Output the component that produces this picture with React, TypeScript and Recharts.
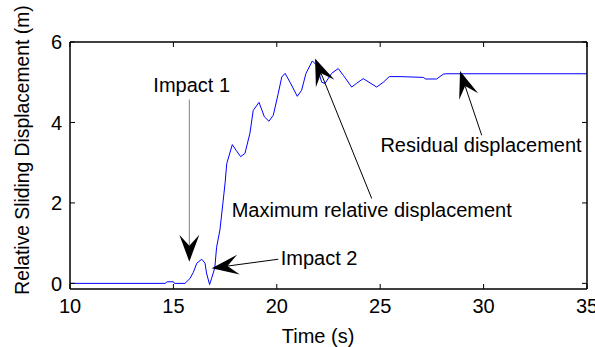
import { LineChart, Line, XAxis, YAxis, ReferenceLine, ReferenceDot } from "recharts";

// time (s) and relative sliding displacement (m)
const timeS = [
  10, 14.6, 14.7, 15.0, 15.05, 15.56, 15.8, 15.96, 16.13, 16.37, 16.53, 16.6, 16.75, 16.85,
  17.0, 17.09, 17.25, 17.41, 17.5, 17.58, 17.85, 18.03, 18.25, 18.46, 18.7, 18.86, 19.14,
  19.4, 19.62, 19.83, 20.07, 20.24, 20.4, 20.64, 20.99, 21.2, 21.41, 21.72, 21.93, 22.17,
  22.33, 22.65, 22.97, 23.22, 23.62, 23.85, 24.18, 24.83, 25.15, 25.44, 25.96, 27.08, 27.2,
  27.73, 28.05, 28.17, 35,
];
const displacement = [
  0, 0, 0.04, 0.04, 0, 0, 0.12, 0.27, 0.5, 0.6, 0.5, 0.26, -0.03, 0.13,
  0.38, 0.9, 1.33, 2.07, 2.5, 2.98, 3.45, 3.31, 3.15, 3.23, 3.73, 4.3, 4.5,
  4.14, 4.03, 4.18, 4.72, 5.13, 5.22, 5.0, 4.65, 4.8, 5.22, 5.53, 5.42, 5.0,
  4.97, 5.22, 5.34, 5.17, 4.88, 4.97, 5.09, 4.88, 5.0, 5.14, 5.14, 5.12, 5.08,
  5.08, 5.2, 5.21, 5.21,
];

const xTicks = [10, 15, 20, 25, 30, 35];
const yTicks = [0, 2, 4, 6];

// annotation arrows: [fromT, fromV, toT, toV, shaft colour]
const arrows: [number, number, number, number, string][] = [
  [15.77, 4.57, 15.77, 0.54, "#808080"],
  [20.07, 0.6, 16.85, 0.377, "#000"],
  [24.59, 2.11, 21.85, 5.59, "#000"],
  [29.91, 3.68, 28.86, 5.28, "#000"],
];

// annotation texts: [t, v, text, anchor]
const notes: [number, number, string, "start" | "end"][] = [
  [14.03, 4.76, "Impact 1", "start"],
  [20.19, 0.46, "Impact 2", "start"],
  [17.82, 1.66, "Maximum relative displacement", "start"],
  [34.74, 3.27, "Residual displacement", "end"],
];

const data = timeS.map((t, i) => ({ t, d: displacement[i] }));

const font = "'Liberation Sans', Arial, Helvetica, sans-serif";
const fs = 20;

const makeArrow = (color: string) => (p: any) => {
  const { x1, y1, x2, y2 } = p;
  const dx = x2 - x1;
  const dy = y2 - y1;
  const len = Math.hypot(dx, dy) || 1;
  const ux = dx / len, uy = dy / len;
  const nx = -uy, ny = ux;
  const L = 27, W = 10, N = 16;
  const bx = x2 - ux * L, by = y2 - uy * L;
  const mx = x2 - ux * N, my = y2 - uy * N;
  const pts = `${x2},${y2} ${bx + nx * W},${by + ny * W} ${mx},${my} ${bx - nx * W},${by - ny * W}`;
  return (
    <g>
      <line x1={x1} y1={y1} x2={mx} y2={my} stroke={color} strokeWidth={1} />
      <polygon points={pts} fill="#000" />
    </g>
  );
};

const BottomTick = (p: any) => (
  <g>
    <line x1={p.x} y1={p.y} x2={p.x} y2={p.y - 5} stroke="#000" />
    <text x={p.x} y={p.y + 24} textAnchor="middle" fontSize={fs} fontFamily={font} fill="#000">
      {p.payload.value}
    </text>
  </g>
);
const TopTick = (p: any) => <line x1={p.x} y1={p.y} x2={p.x} y2={p.y + 5} stroke="#000" />;
const LeftTick = (p: any) => (
  <g>
    <line x1={p.x} y1={p.y} x2={p.x + 5} y2={p.y} stroke="#000" />
    <text x={p.x - 8} y={p.y} dy="0.36em" textAnchor="end" fontSize={fs} fontFamily={font} fill="#000">
      {p.payload.value}
    </text>
  </g>
);
const RightTick = (p: any) => <line x1={p.x} y1={p.y} x2={p.x - 5} y2={p.y} stroke="#000" />;

export default function App() {
  return (
    <div style={{ position: "absolute", left: 0, top: 0, background: "#fff" }}>
      <LineChart width={595} height={347} data={data} margin={{ top: 41, right: 7, bottom: 57, left: 69 }}>
        <XAxis
          xAxisId="b" dataKey="t" type="number" domain={[10, 35]} ticks={xTicks} allowDataOverflow
          height={1} tickSize={0} tickMargin={0} tick={<BottomTick />} interval={0}
          axisLine={{ stroke: "#000", strokeWidth: 1.5 }}
        />
        <XAxis
          xAxisId="t" orientation="top" dataKey="t" type="number" domain={[10, 35]} ticks={xTicks} allowDataOverflow
          height={1} tickSize={0} tickMargin={0} tick={<TopTick />} interval={0}
          axisLine={{ stroke: "#000", strokeWidth: 1.5 }}
        />
        <YAxis
          yAxisId="l" type="number" domain={[-0.14, 6]} ticks={yTicks} allowDataOverflow
          width={1} tickSize={0} tickMargin={0} tick={<LeftTick />} interval={0}
          axisLine={{ stroke: "#000", strokeWidth: 1.5 }}
        />
        <YAxis
          yAxisId="r" orientation="right" type="number" domain={[-0.14, 6]} ticks={yTicks} allowDataOverflow
          width={1} tickSize={0} tickMargin={0} tick={<RightTick />} interval={0}
          axisLine={{ stroke: "#000", strokeWidth: 1.5 }}
        />
        <Line
          xAxisId="b" yAxisId="l" dataKey="d" type="linear" stroke="#0000ff" strokeWidth={1}
          dot={false} activeDot={false} isAnimationActive={false}
        />
        {arrows.map(([t1, v1, t2, v2, c], i) => (
          <ReferenceLine
            key={`a${i}`} xAxisId="b" yAxisId="l" ifOverflow="visible"
            segment={[{ x: t1, y: v1 }, { x: t2, y: v2 }]} shape={makeArrow(c)}
          />
        ))}
        {notes.map(([t, v, s, anchor], i) => (
          <ReferenceDot
            key={`n${i}`} xAxisId="b" yAxisId="l" x={t} y={v} r={0} ifOverflow="visible"
            shape={(p: any) => (
              <text x={p.cx} y={p.cy} textAnchor={anchor} fontSize={fs} fontFamily={font} fill="#000">
                {s}
              </text>
            )}
          />
        ))}
      </LineChart>
      <div
        style={{
          position: "absolute", left: 23, top: 150, transform: "translate(-50%, -50%) rotate(-90deg)",
          whiteSpace: "nowrap", fontSize: 19.3, fontFamily: font, color: "#000", lineHeight: 1,
        }}
      >
        Relative Sliding Displacement (m)
      </div>
      <div
        style={{
          position: "absolute", left: 318, top: 336, transform: "translate(-50%, -50%)",
          whiteSpace: "nowrap", fontSize: fs, fontFamily: font, color: "#000", lineHeight: 1,
        }}
      >
        Time (s)
      </div>
    </div>
  );
}
